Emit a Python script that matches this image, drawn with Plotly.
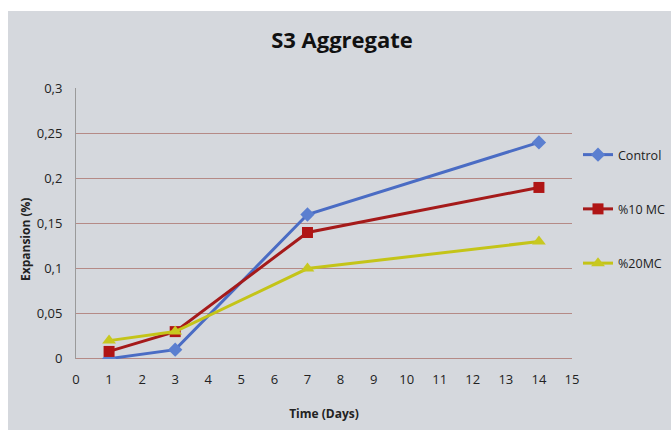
import plotly.graph_objects as go

days = [1, 3, 7, 14]
control = [0.0, 0.01, 0.16, 0.24]
mc10 = [0.008, 0.03, 0.14, 0.19]
mc20 = [0.02, 0.03, 0.10, 0.13]

series_names = ["Control", "%10 MC", "%20MC"]
y_tickvals = [0, 0.05, 0.1, 0.15, 0.2, 0.25, 0.3]
y_ticktext = ["0", "0,05", "0,1", "0,15", "0,2", "0,25", "0,3"]
x_tickvals = list(range(0, 16))

FONT = "Open Sans"
BG = "#d5d8dd"
GRID = "#b58a86"
W, H = 700, 430  # slightly wider than the window; right part is clipped

fig = go.Figure()
fig.add_trace(go.Scatter(x=days, y=control, name=series_names[0], mode="lines+markers",
                         line=dict(color="#4a6cc4", width=3),
                         marker=dict(symbol="diamond", size=11, color="#5b7fd0"),
                         legendgroup="a"))
fig.add_trace(go.Scatter(x=days, y=mc10, name=series_names[1], mode="lines+markers",
                         line=dict(color="#a51a1a", width=3),
                         marker=dict(symbol="square", size=11, color="#b01515"),
                         legendgroup="b"))
fig.add_trace(go.Scatter(x=days, y=mc20, name=series_names[2], mode="lines+markers",
                         line=dict(color="#c4c418", width=3),
                         marker=dict(symbol="triangle-up", size=12, color="#c8c820"),
                         legendgroup="c"))

fig.update_layout(
    width=W, height=H, autosize=False,
    margin=dict(l=76, r=W - 572, t=88, b=71),
    paper_bgcolor=BG, plot_bgcolor=BG,
    font=dict(family=FONT, color="#222222", size=13),
    title=dict(text="<b>S3 Aggregate</b>", x=342 / W, xanchor="center", y=0.907, yanchor="middle",
               font=dict(size=22, color="#111111", family=FONT)),
    legend=dict(x=(578 - 572) / 496 + 1, xanchor="left", y=(359 - 140) / 271,
                yanchor="top", bgcolor="rgba(0,0,0,0)",
                font=dict(size=12.5, color="#222222"), tracegroupgap=35, itemwidth=30),
    showlegend=True,
    shapes=[
        dict(type="rect", xref="paper", yref="paper", x0=-1, x1=3, y0=1 + (88 - 11) / 271, y1=2,
             fillcolor="white", line=dict(width=0), layer="below"),
        dict(type="rect", xref="paper", yref="paper", x0=-1, x1=-(76 - 8) / 496, y0=-1, y1=2,
             fillcolor="white", line=dict(width=0), layer="below"),
    ],
    annotations=[
        dict(text="<b>Expansion (%)</b>", xref="paper", yref="paper",
             x=-(76 - 25) / 496, y=(359 - 240) / 271, textangle=-90, showarrow=False,
             xanchor="center", yanchor="middle", font=dict(size=12, color="#222222")),
    ],
)
fig.update_xaxes(range=[0, 15], tickvals=x_tickvals, showgrid=False, zeroline=False,
                 showline=False, ticks="", ticklabelstandoff=11,
                 tickfont=dict(size=13, color="#222222"),
                 title=dict(text="<b>Time (Days)</b>", font=dict(size=12), standoff=22))
fig.update_yaxes(range=[-0.0004, 0.3004], tickvals=y_tickvals, ticktext=y_ticktext,
                 showgrid=True, gridcolor=GRID, gridwidth=1, zeroline=True,
                 zerolinecolor=GRID, zerolinewidth=1,
                 showline=True, linecolor="#9a9a9a", linewidth=1, ticks="",
                 ticklabelstandoff=10,
                 tickfont=dict(size=13, color="#222222"))

fig.write_html(
    "out.html",
    config={"displayModeBar": False},
    post_script=(
        "document.body.style.margin='0';"
        "document.body.style.overflow='hidden';"
    ),
)
